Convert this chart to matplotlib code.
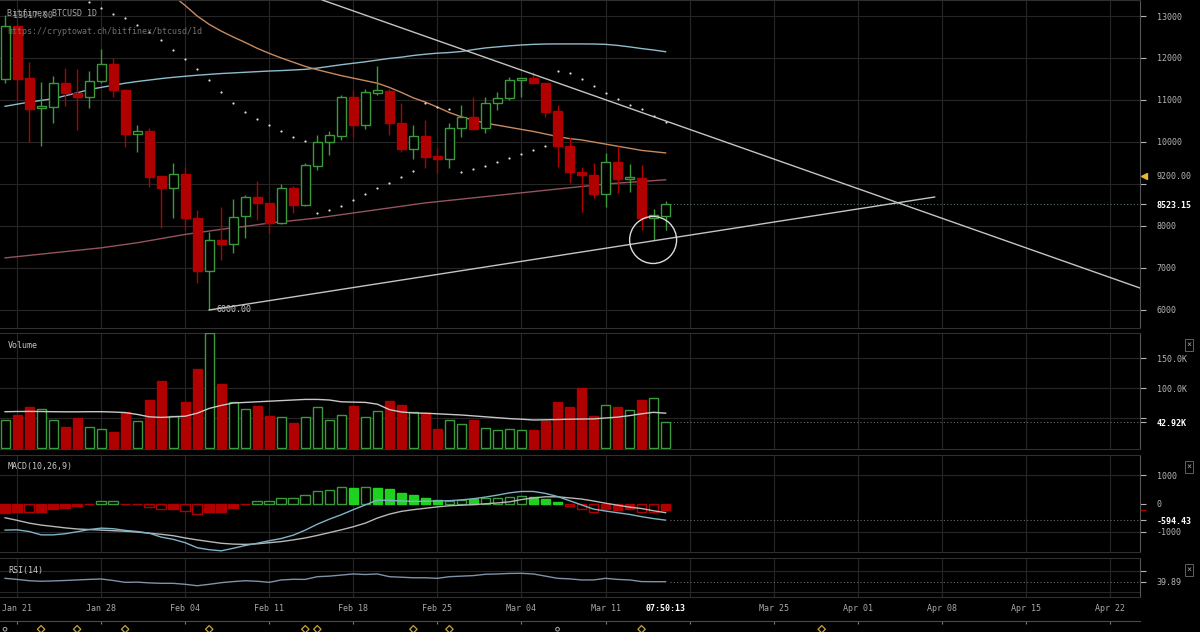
import matplotlib.pyplot as plt
from matplotlib.patches import Ellipse
import numpy as np

plt.rcParams['font.family'] = ['DejaVu Sans Mono', 'DejaVu Sans']

W, H = 1200, 632

# ---- daily candles, Jan 20 .. Mar 16 2018 (day 0 = Jan 20)
opens = [11500, 12760, 11520, 10800, 10830, 11400, 11170, 11080, 11460, 11850,
         11240, 10190, 10260, 9190, 8900, 9240, 8190, 6930, 7670, 7570,
         8240, 8690, 8550, 8070, 8900, 8500, 9430, 10000, 10150, 11070,
         10400, 11170, 11210, 10450, 9830, 10140, 9660, 9600, 10330, 10600,
         10330, 10930, 11050, 11480, 11520, 11400, 10740, 9900, 9290, 9210,
         8760, 9520, 9120, 9140, 8190, 8240]
highs = [13017, 12800, 11900, 11430, 11570, 11760, 11730, 11700, 12210, 12000,
         11250, 10400, 10330, 9200, 9500, 9400, 8380, 7860, 8450, 8640,
         8740, 9070, 8550, 9000, 8950, 9500, 10170, 10260, 11120, 11240,
         11250, 11800, 11250, 10930, 10400, 10520, 9860, 10450, 10880, 11070,
         11070, 11190, 11550, 11530, 11670, 11400, 10880, 10120, 9400, 9500,
         9740, 9900, 9480, 9450, 8400, 8600]
lows = [11400, 11000, 10000, 9900, 10450, 10860, 10290, 10800, 11400, 11070,
        9880, 9770, 8930, 7950, 8190, 7900, 6640, 6000, 7190, 7360,
        7710, 8140, 7830, 8050, 8310, 8480, 9330, 9690, 10050, 10120,
        10310, 11120, 10170, 9770, 9600, 9380, 9260, 9380, 10120, 10300,
        10210, 10760, 11000, 11070, 11380, 10600, 9400, 9020, 8330, 8670,
        8450, 8790, 8810, 7900, 7670, 7900]
closes = [12760, 11500, 10790, 10850, 11400, 11160, 11070, 11460, 11850, 11240,
          10190, 10260, 9170, 8900, 9240, 8190, 6930, 7670, 7570, 8220,
          8690, 8550, 8070, 8900, 8500, 9450, 10000, 10170, 11070, 10400,
          11190, 11240, 10450, 9830, 10140, 9640, 9600, 10330, 10600, 10310,
          10930, 11050, 11480, 11500, 11400, 10710, 9900, 9290, 9210, 8760,
          9520, 9120, 9170, 8190, 8260, 8523.15]

ma_blue = [10850, 10900, 10950, 10990, 11030, 11100, 11170, 11250, 11300, 11350,
           11400, 11440, 11475, 11510, 11540, 11565, 11590, 11610, 11630, 11645,
           11660, 11675, 11690, 11700, 11715, 11730, 11760, 11800, 11840, 11875,
           11910, 11950, 11990, 12020, 12060, 12090, 12115, 12130, 12155, 12200,
           12240, 12265, 12290, 12310, 12325, 12333, 12335, 12335, 12335, 12333,
           12325, 12300, 12265, 12225, 12190, 12150]
ma_orange = [np.nan] * 10 + [14700, 14400, 14050, 13750, 13480, 13250, 13000, 12800, 12640, 12500,
             12370, 12230, 12110, 12000, 11900, 11800, 11720, 11650, 11580, 11520,
             11460, 11400, 11300, 11180, 11050, 10950, 10830, 10700, 10600, 10520,
             10450, 10400, 10350, 10300, 10250, 10190, 10130, 10080, 10050, 10000,
             9950, 9900, 9850, 9800, 9770, 9740]
ma_pink = [7240, 7270, 7300, 7330, 7360, 7390, 7420, 7450, 7480, 7520,
           7560, 7600, 7650, 7700, 7750, 7800, 7840, 7880, 7920, 7960,
           7990, 8030, 8070, 8100, 8130, 8160, 8190, 8230, 8270, 8310,
           8350, 8390, 8430, 8470, 8510, 8550, 8580, 8610, 8640, 8670,
           8700, 8730, 8760, 8790, 8820, 8850, 8880, 8910, 8940, 8970,
           9000, 9020, 9040, 9060, 9080, 9100]
sar = [np.nan] * 7 + [13333, 13190, 13048, 12952, 12786, 12619, 12429, 12190, 11976, 11738,
       11476, 11190, 10929, 10714, 10548, 10405, 10262, 10119, 10024,
       8310, 8381, 8476, 8619, 8762, 8905, 9024, 9167, 9310,
       10936, 10841, 10778,
       9286, 9357, 9429, 9524, 9619, 9714, 9810, 9905,
       11690, 11643, 11500, 11333, 11167, 11024, 10881, 10786, 10619, 10476]

volume_k = [46.7, 55, 67.8, 65.6, 46.7, 35.6, 50.6, 35.6, 31.1, 26.7,
            60.6, 44.4, 80, 112.2, 53.3, 76.1, 132.2, 191, 106, 76.7,
            64.4, 70, 53.3, 51.1, 41.1, 51.1, 67.8, 46.7, 54.4, 70.6,
            51.7, 62.2, 78.9, 71.7, 60, 57.8, 32.2, 46.1, 40.6, 46.1,
            33.9, 29.4, 31.1, 29.4, 30, 45.6, 77.2, 68.3, 99.4, 53.3,
            71.1, 67.8, 62.8, 80.6, 82.8, 42.92]
volume_ma = [60.5, 60.8, 61, 60.8, 60.5, 60.3, 60.3, 60.5, 60.5, 60,
             59, 56, 52, 51, 52, 53, 58, 66, 71, 75,
             76, 77, 78, 79, 80, 81, 81, 80, 77, 76.5,
             76, 73, 64, 60, 58.5, 58, 57, 56, 55, 53.5,
             52, 50.5, 49, 48, 46.7, 47, 47.5, 48, 48.3, 48.5,
             50, 51.5, 54, 57, 59.5, 58]

macd_line = [-950, -940, -1000, -1120, -1120, -1080, -1010, -930, -880, -900,
             -960, -1000, -1060, -1200, -1280, -1400, -1580, -1650, -1690, -1600,
             -1500, -1420, -1330, -1250, -1130, -950, -740, -560, -400, -220,
             -50, 120, 110, 90, 75, 80, 90, 100, 130, 170,
             230, 300, 380, 430, 430, 360, 250, 100, -50, -200,
             -270, -330, -390, -470, -540, -594.43]
macd_signal = [-510, -600, -700, -770, -820, -870, -910, -930, -950, -970,
               -990, -1020, -1060, -1100, -1150, -1230, -1300, -1360, -1420, -1450,
               -1460, -1440, -1400, -1360, -1300, -1230, -1140, -1040, -940, -830,
               -700, -520, -380, -280, -220, -170, -120, -80, -60, -40,
               -10, 20, 60, 140, 200, 240, 240, 200, 160, 90,
               10, -60, -130, -180, -260, -327]
macd_hist = [-328, -317, -292, -292, -208, -149, -89, -30, 89, 101,
             -18, -30, -137, -196, -196, -256, -363, -292, -292, -149,
             -30, 89, 89, 190, 214, 321, 429, 488, 583, 571,
             583, 571, 510, 363, 303, 208, 125, 101, 125, 149,
             185, 208, 244, 268, 244, 149, 54, -89, -185, -292,
             -185, -232, -208, -292, -292, -232]
hist_filled = [1, 1, 0, 1, 1, 1, 1, 1, 0, 0,
               1, 1, 0, 0, 1, 0, 0, 1, 1, 1,
               1, 0, 0, 0, 0, 0, 0, 0, 0, 1,
               0, 1, 1, 1, 1, 1, 1, 0, 0, 1,
               0, 0, 0, 0, 1, 1, 1, 0, 0, 0,
               1, 1, 1, 0, 0, 1]

rsi_vals = [43, 42, 40.8, 40.3, 40.6, 41, 41.5, 42, 42.4, 41,
            39.3, 39.5, 38.8, 38.4, 38.4, 37.5, 36.2, 37.5, 39, 40,
            40.8, 40.3, 39.3, 41.5, 42.1, 42, 44.5, 45, 46, 47,
            46.5, 47, 44.5, 44, 43.5, 43.5, 43, 44.5, 45, 45.5,
            46.7, 47, 47.5, 47.6, 47, 45, 43, 42.5, 41.5, 41.5,
            43, 42, 41.5, 40, 39.9, 39.89]

# x axis: weekly grid (Sundays) and labels, in days after Jan 20
grid_days = [1, 8, 15, 22, 29, 36, 43, 50, 57, 64, 71, 78, 85, 92]
label_days = [1, 8, 15, 22, 29, 36, 43, 50, 55, 64, 71, 78, 85, 92]
label_text = ['Jan 21', 'Jan 28', 'Feb 04', 'Feb 11', 'Feb 18', 'Feb 25', 'Mar 04',
              'Mar 11', '07:50:13', 'Mar 25', 'Apr 01', 'Apr 08', 'Apr 15', 'Apr 22']
event_diamonds = [3, 6, 10, 17, 25, 26, 34, 37, 53, 68]
event_dots = [0, 46]

# hand drawn annotations (day, price)
down_trend = [(37.05, 12310), (56.2, 10381)]
up_trend = [(17, 6000), (77.4, 8690)]

RED = '#b00000'
GREEN = '#3c9a3c'
BRIGHT = '#1fd21f'
GRID = '#262626'
TXT = '#b4b4b4'

x = np.arange(len(opens))
o = np.array(opens)
c = np.array(closes)
up = c >= o

fig = plt.figure(figsize=(W / 100, H / 100), dpi=100, facecolor='black')


def panel(top, bottom):
    ax = fig.add_axes([0, 1 - bottom / H, 1140 / W, (bottom - top) / H])
    ax.set_facecolor('black')
    ax.set_xlim(-0.42, 94.5)
    ax.spines['left'].set_visible(False)
    ax.spines['top'].set_color('#303030')
    ax.spines['bottom'].set_color('#303030')
    ax.spines['right'].set_color('#555555')
    ax.yaxis.tick_right()
    ax.tick_params(axis='y', colors=TXT, labelsize=6, length=4, width=0.8, pad=8)
    ax.tick_params(axis='x', which='both', bottom=False, labelbottom=False)
    for d in grid_days:
        ax.axvline(d, color=GRID, lw=0.8, zorder=0)
    return ax


def ftxt(px, py, s, **kw):
    fig.text(px / W, 1 - py / H, s, **kw)


# ---------------- price panel
ax = panel(0, 328)
ax.set_ylim(5571, 13381)
price_levels = [6000, 7000, 8000, 9000, 10000, 11000, 12000, 13000]
for p in price_levels:
    ax.axhline(p, color=GRID, lw=0.8, zorder=0)
ax.set_yticks(price_levels + [9200, closes[-1]])
ax.set_yticklabels([str(p) if p != 9000 else '' for p in price_levels] + ['9200.00', '%.2f' % closes[-1]])
lbls = ax.get_yticklabels()
lbls[-1].set_color('white')
lbls[-1].set_fontweight('bold')
ax.yaxis.get_major_ticks()[-2].tick2line.set_visible(False)
ax.plot([1.0035], [9200], marker='<', color='#e8b830', ms=4, transform=ax.get_yaxis_transform(), clip_on=False)

ax.plot(x, ma_blue, color='#8fbccc', lw=1, zorder=2)
ax.plot(x, ma_orange, color='#c98a5e', lw=1, zorder=2)
ax.plot(x, ma_pink, color='#94545e', lw=1, zorder=2)
ax.scatter(x, sar, s=2.5, color='#dddddd', zorder=4, linewidths=0)

wick_col = np.where(up, GREEN, RED)
ax.vlines(x, lows, highs, colors=wick_col, lw=1, zorder=3)
body_h = np.maximum(np.abs(c - o), 45)
ax.bar(x, body_h, bottom=np.minimum(o, c), width=0.75, color=np.where(up, 'black', RED),
       edgecolor=wick_col, lw=1, zorder=4)

ax.axline(down_trend[0], down_trend[1], color='#c4c4c4', lw=1, zorder=5)
ax.plot([up_trend[0][0], up_trend[1][0]], [up_trend[0][1], up_trend[1][1]], color='#c4c4c4', lw=1, zorder=5)
ax.add_patch(Ellipse((53.96, 7667), 3.91, 1119, fill=False, ec='#dcdcdc', lw=1, zorder=6))
ax.hlines(closes[-1], 55.4, 94.5, colors='#4f7f5f', linestyles=(0, (1, 2)), lw=0.8, zorder=1)

ax.text(0.7, 13017, '13017.00', color='#9a9a9a', fontsize=6, va='center', zorder=7)
ax.text(17.6, 6000, '6000.00', color='#c8c8c8', fontsize=6, va='center', zorder=7)

ftxt(7, 14, 'Bitfinex BTCUSD 1D', color='#a8a8a8', fontsize=6, va='center')
ftxt(7, 31, 'https://cryptowat.ch/bitfinex/btcusd/1d', color='#707070', fontsize=6, va='center')

# ---------------- volume panel
axv = panel(333, 449)
axv.set_ylim(-1.67, 191.7)
for lv in [50, 100, 150]:
    axv.axhline(lv, color=GRID, lw=0.8, zorder=0)
axv.set_yticks([50, 100, 150, volume_k[-1]])
axv.set_yticklabels(['', '100.0K', '150.0K', '%.2fK' % volume_k[-1]])
axv.get_yticklabels()[-1].set_color('white')
axv.get_yticklabels()[-1].set_fontweight('bold')
axv.bar(x, volume_k, width=0.75, color=np.where(up, 'black', RED), edgecolor=wick_col, lw=1, zorder=3)
axv.plot(x, volume_ma, color='#c8c8c8', lw=1, zorder=4)
axv.hlines(volume_k[-1], 55.4, 94.5, colors='#6a6a6a', linestyles=(0, (1, 2)), lw=0.8, zorder=1)
ftxt(8, 345, 'Volume', color='#c8c8c8', fontsize=6, va='center')

# ---------------- MACD panel
axm = panel(455, 552)
axm.set_ylim(-1732, 1732)
for lv in [1000, -1000]:
    axm.axhline(lv, color=GRID, lw=0.8, zorder=0)
axm.set_yticks([1000, 0, macd_line[-1], -1000])
axm.set_yticklabels(['1000', '0', '%.2f' % macd_line[-1], '-1000'])
axm.get_yticklabels()[2].set_color('white')
axm.get_yticklabels()[2].set_fontweight('bold')
hist = np.array(macd_hist)
filled = np.array(hist_filled) == 1
pos = hist >= 0
face = np.where(filled, np.where(pos, BRIGHT, RED), 'black')
edge = np.where(pos, np.where(filled, BRIGHT, GREEN), RED)
axm.bar(x, hist, width=0.8, color=face, edgecolor=edge, lw=1, zorder=3)
axm.plot(x, macd_signal, color='#b8b8b8', lw=1, zorder=4)
axm.plot(x, macd_line, color='#7fb4c8', lw=1, zorder=4)
axm.hlines(macd_line[-1], 55.4, 94.5, colors='#6a6a6a', linestyles=(0, (1, 2)), lw=0.8, zorder=1)
axm.plot([1.003], [macd_hist[-1]], marker='_', color=RED, ms=5, transform=axm.get_yaxis_transform(), clip_on=False)
ftxt(8, 467, 'MACD(10,26,9)', color='#c8c8c8', fontsize=6, va='center')

# ---------------- RSI panel
axr = panel(558, 597)
axr.set_ylim(25.83, 61.67)
for lv in [50, 30]:
    axr.axhline(lv, color=GRID, lw=0.8, zorder=0)
axr.set_yticks([50, rsi_vals[-1]])
axr.set_yticklabels(['', '%.2f' % rsi_vals[-1]])
axr.plot(x, rsi_vals, color='#7f92a8', lw=1, zorder=3)
axr.hlines(rsi_vals[-1], 55.4, 94.5, colors='#6a6a6a', linestyles=(0, (1, 2)), lw=0.8, zorder=1)
ftxt(8, 571, 'RSI(14)', color='#c8c8c8', fontsize=6, va='center')
axr.set_xticks(label_days, minor=True)
axr.set_xticklabels(label_text, minor=True)
axr.tick_params(axis='x', which='minor', labelbottom=True, labelsize=6, colors='#a8a8a8', pad=5, length=0)
for t in axr.get_xticklabels(minor=True):
    if t.get_text() == '07:50:13':
        t.set_color('white')
        t.set_fontweight('bold')

# ---------------- event strip
axe = fig.add_axes([0, 0, 1140 / W, 11 / H])
axe.set_facecolor('black')
axe.set_xlim(-0.42, 94.5)
axe.set_ylim(0, 1)
for s in ['left', 'right', 'bottom']:
    axe.spines[s].set_visible(False)
axe.spines['top'].set_color('#4a4a4a')
axe.set_yticks([])
axe.set_xticks(grid_days)
axe.tick_params(axis='x', bottom=False, top=True, labelbottom=False, direction='in', length=2, color='#777777')
axe.scatter(event_diamonds, [0.25] * len(event_diamonds), marker='D', s=14, facecolors='none',
            edgecolors='#c9a43c', linewidths=0.9, clip_on=False)
axe.scatter(event_dots, [0.25] * len(event_dots), marker='o', s=7, facecolors='none',
            edgecolors='#9a9a9a', linewidths=0.8, clip_on=False)

# close boxes on the indicator panels
for py in [345, 467, 570]:
    ftxt(1189, py, '×', color='#a0a0a0', fontsize=6, ha='center', va='center',
         bbox=dict(boxstyle='square,pad=0.2', fc='none', ec='#707070', lw=0.6))

fig.savefig('out.png', dpi=100, facecolor='black')
